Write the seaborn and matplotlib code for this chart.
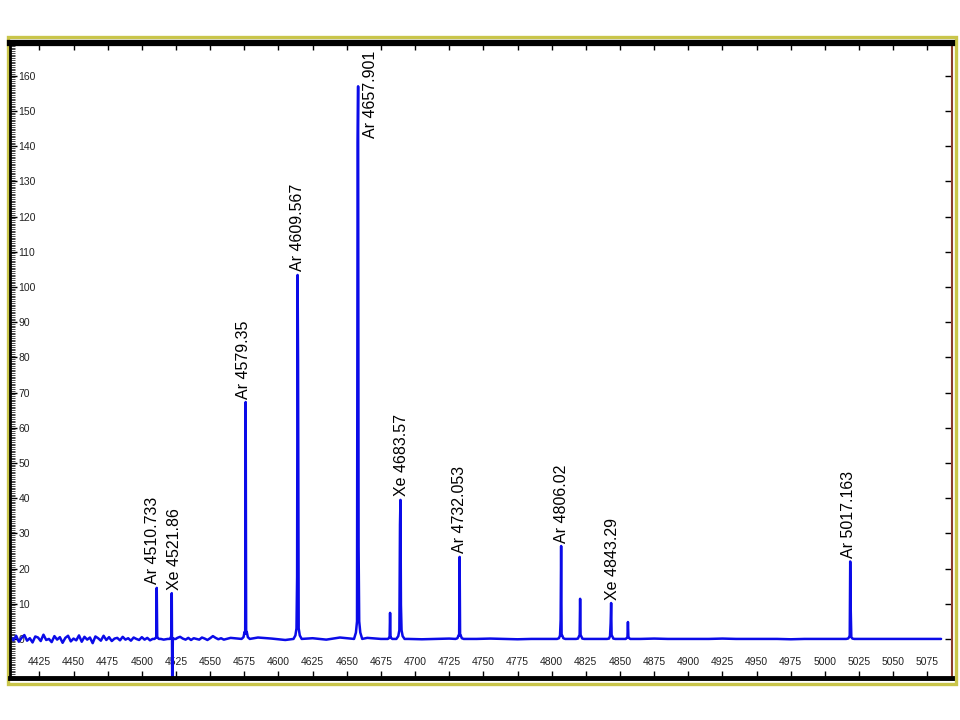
import numpy as np
import pandas as pd
import matplotlib
matplotlib.use("Agg")
import matplotlib.pyplot as plt
import seaborn as sns
from matplotlib.patches import Rectangle
from matplotlib.ticker import MultipleLocator, FixedLocator

# --- data (wavelength in Angstrom, counts) ---
# noisy baseline on the blue end, one sample every 2 A starting at 4404
noise_left = [0.6, -0.4, 0.9, -0.8, 0.3, 1.1, -0.5, 0.2, -1.0, 0.7,
              0.4, -0.6, 1.2, -0.3, 0.0, -0.9, 0.8, -0.2, 0.5, -1.1,
              0.3, 0.9, -0.7, 0.1, -0.4, 1.0, -0.8, 0.6, -0.2, 0.4,
              -1.2, 0.7, 0.2, -0.5, 0.9, -0.3, 0.5, -0.6, 0.1, 0.3,
              -0.4, 0.6, -0.2, 0.2, -0.5, 0.4, 0.0, -0.3, 0.5, -0.2,
              0.3, -0.4, 0.2, 0.4, -0.3, 0.1, -0.2, 0.5, -0.1, 0.2,
              -0.4, 0.3, 0.6, 0.1, -0.2, 0.3, -0.3, 0.2, 0.0, -0.2,
              0.4, 0.1, -0.3, 0.2, 0.8, 0.3, -0.1, 0.2, -0.2]
# quieter baseline, one sample every 10 A starting at 4565
noise_right = [0.3, -0.2, 0.4, 0.1, -0.3, 0.3, 0.2, -0.2, 0.4, 0.1,
               0.3, 0.0, 0.1, 0.0, -0.1, 0.0, 0.1, 0.0, 0.0, 0.1,
               0.0, -0.1, 0.0, 0.0, 0.1, 0.0, 0.0, 0.0, -0.1, 0.0,
               0.0, 0.1, 0.0, 0.0, 0.0, 0.0, 0.1, 0.0, 0.0, 0.0,
               0.0, -0.1, 0.0, 0.0, 0.0, 0.1, 0.0, 0.0, 0.0, 0.0,
               0.0, 0.0, 0.0]

# emission lines: centre, peak top, neighbouring samples and wings
peak_wl = [4510.9, 4521.9, 4576.0, 4614.0, 4658.3, 4681.7, 4689.3,
           4732.6, 4806.9, 4820.8, 4843.5, 4855.8, 5018.5]
peak_top = [14.5, 13.0, 67.3, 103.4, 157.0, 7.4, 39.5,
            23.3, 26.4, 11.4, 10.2, 4.8, 22.0]
peak_left = [0.5, 1.0, 1.5, 17.6, 141.0, 0.3, 32.4,
             1.0, 5.4, 1.0, 4.5, 0.5, 1.0]
peak_right = [0.5, -14.0, 2.0, 79.0, 26.0, 0.3, 9.7,
              1.0, 1.0, 1.0, 1.0, 0.5, 8.8]
peak_foot = [0.3, 0.2, 2.0, 3.0, 5.0, 0.3, 2.5,
             1.0, 1.0, 0.8, 0.8, 0.3, 0.5]
peak_wing = [0.0, 0.0, 0.5, 1.0, 1.8, 0.0, 0.8,
             0.2, 0.2, 0.1, 0.1, 0.0, 0.1]

line_labels = ['Ar 4510.733', 'Xe 4521.86', 'Ar 4579.35', 'Ar 4609.567',
               'Ar 4657.901', 'Xe 4683.57', 'Ar 4732.053', 'Ar 4806.02',
               'Xe 4843.29', 'Ar 5017.163']
label_peak = [0, 1, 2, 3, 4, 6, 7, 8, 10, 12]

# label placement (offset points), the 4657.901 label sits beside its line
label_dx = [-3, 2, -1.5, 0, 9, 1, 0, 0, 1, -1.5]
label_y = {4: 141.2}

# --- build the trace ---
base_wl = np.concatenate([4404 + 2 * np.arange(len(noise_left)),
                          4565 + 10 * np.arange(len(noise_right))])
base_ct = np.array(noise_left + noise_right, dtype=float)
near = np.zeros(len(base_wl), dtype=bool)
for c in peak_wl:
    near |= np.abs(base_wl - c) < 4.0
rows = [(w, v) for w, v in zip(base_wl[~near], base_ct[~near])]

shape = [-3.0, -1.6, -0.8, -0.35, 0.0, 0.35, 0.8, 1.6, 3.0]
for i, c in enumerate(peak_wl):
    vals = [0.0, peak_wing[i], peak_foot[i], peak_left[i], peak_top[i],
            peak_right[i], peak_foot[i], peak_wing[i], 0.0]
    rows += [(c + d, v) for d, v in zip(shape, vals)]

df = pd.DataFrame(rows, columns=['wavelength', 'counts']).sort_values('wavelength')

# --- plot ---
sns.set_theme(style="white")
plt.rcParams['font.family'] = ['Liberation Sans', 'DejaVu Sans']

fig = plt.figure(figsize=(9.6, 7.2), dpi=100)
ax = fig.add_axes([10 / 960, 1 - 678 / 720, 942 / 960, 635 / 720])

sns.lineplot(data=df, x='wavelength', y='counts', ax=ax, color='#0b0be8',
             linewidth=1.8, sort=False, estimator=None)

ax.set_xlim(4403.5, 5093)
ax.set_ylim(-11.1, 169.3)
ax.set_xlabel('')
ax.set_ylabel('')

ax.xaxis.set_major_locator(FixedLocator(np.arange(4425, 5100, 25)))
ax.yaxis.set_major_locator(FixedLocator(np.arange(0, 170, 10)))
ax.yaxis.set_minor_locator(MultipleLocator(0.5))

ax.tick_params(axis='x', which='major', direction='in', length=5, width=1,
               color='black', top=True, bottom=True, labelsize=7.5,
               labelcolor='#222222', pad=-15)
ax.tick_params(axis='y', which='major', direction='in', length=5, width=1,
               color='black', left=True, right=True, labelsize=7.5,
               labelcolor='#222222', pad=-6)
ax.tick_params(axis='y', which='minor', direction='in', length=3.5, width=0.5,
               color='black', left=True, right=False)
for lab in ax.get_yticklabels():
    lab.set_horizontalalignment('left')

ax.spines['top'].set_linewidth(4.5)
ax.spines['bottom'].set_linewidth(3.5)
ax.spines['left'].set_linewidth(2)
for side in ['top', 'bottom', 'left']:
    ax.spines[side].set_color('black')
ax.spines['right'].set_linewidth(1.5)
ax.spines['right'].set_color('#8a3b2b')

for k, name in enumerate(line_labels):
    i = label_peak[k]
    y = label_y.get(i, peak_top[i])
    ax.annotate(name, xy=(peak_wl[i], y), xytext=(label_dx[k], 2.5),
                textcoords='offset points', rotation=90, ha='center',
                va='bottom', fontsize=11.5, color='black')

# olive frame around the whole panel
fig.add_artist(Rectangle((7.5 / 960, 1 - 684 / 720), 948 / 960, 647 / 720,
                         transform=fig.transFigure, fill=False,
                         edgecolor='#c9c54a', linewidth=2.4, zorder=0))

fig.savefig('out.png', dpi=100, facecolor='white')
